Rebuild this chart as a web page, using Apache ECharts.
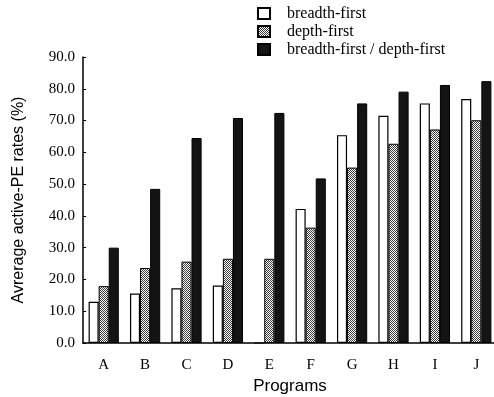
<!DOCTYPE html>
<html>
<head>
<meta charset="utf-8">
<script src="https://cdn.jsdelivr.net/npm/echarts@6/dist/echarts.min.js"></script>
<style>
  html, body { margin: 0; padding: 0; background: #fff; }
  #chart { width: 494px; height: 397px; }
</style>
</head>
<body>
<div id="chart"></div>
<script>
// programs on the x axis
var programs = ['A', 'B', 'C', 'D', 'E', 'F', 'G', 'H', 'I', 'J']
// average active-PE rates (%)
var breadthFirst = [13.0, 15.6, 17.2, 18.1, 0, 42.2, 65.4, 71.5, 75.4, 76.8]
var depthFirst = [17.9, 23.6, 25.6, 26.5, 26.5, 36.3, 55.2, 62.7, 67.2, 70.1]
var breadthDepth = [30.0, 48.5, 64.5, 70.8, 72.4, 51.8, 75.4, 79.1, 81.2, 82.4]
var seriesNames = ['breadth-first', 'depth-first', 'breadth-first / depth-first']

// dotted fill for the depth-first bars
function makePattern() {
  var c = document.createElement('canvas')
  c.width = 2
  c.height = 2
  var ctx = c.getContext('2d')
  ctx.fillStyle = '#fff'
  ctx.fillRect(0, 0, 2, 2)
  ctx.fillStyle = '#3a3a3a'
  ctx.fillRect(0, 0, 1, 1)
  ctx.fillRect(1, 1, 1, 1)
  return c
}

var myChart = echarts.init(document.getElementById('chart'))

var serifFont = '"Liberation Serif", "DejaVu Serif", serif'
var sansFont = '"Liberation Sans", Arial, sans-serif'

var option = {
  animation: false,
  backgroundColor: '#fff',
  legend: {
    orient: 'vertical',
    left: 252,
    top: 0,
    itemGap: 1,
    itemWidth: 12,
    itemHeight: 11,
    icon: 'rect',
    textStyle: {
      fontFamily: serifFont,
      fontSize: 16,
      lineHeight: 17,
      color: '#000',
      padding: [0, 0, 0, 12],
    },
    data: seriesNames,
  },
  grid: {
    left: 83,
    right: -3,
    top: 57,
    bottom: 54,
    outerBoundsMode: 'none',
  },
  xAxis: {
    type: 'category',
    data: programs,
    name: 'Programs',
    nameLocation: 'middle',
    nameGap: 32,
    nameTextStyle: {
      fontFamily: sansFont,
      fontSize: 17,
      color: '#000',
    },
    axisLine: { lineStyle: { color: '#000', width: 1.5 } },
    axisTick: { inside: true, length: 3, lineStyle: { color: '#000' } },
    axisLabel: {
      fontFamily: serifFont,
      fontSize: 15,
      color: '#000',
      margin: 15,
    },
  },
  yAxis: {
    type: 'value',
    min: 0,
    max: 90,
    interval: 10,
    name: 'Avrerage active-PE rates (%)',
    nameLocation: 'middle',
    nameGap: 56,
    nameTextStyle: {
      fontFamily: sansFont,
      fontSize: 16,
      color: '#000',
    },
    axisLine: { show: true, lineStyle: { color: '#000', width: 1.5 } },
    axisTick: { show: true, inside: true, length: 3, lineStyle: { color: '#000' } },
    splitLine: { show: false },
    axisLabel: {
      fontFamily: serifFont,
      fontSize: 15,
      color: '#000',
      margin: 8,
      formatter: function (v) {
        return v.toFixed(1)
      },
    },
  },
  series: [
    {
      name: seriesNames[0],
      type: 'bar',
      data: breadthFirst,
      barGap: 0,
      barCategoryGap: '27%',
      itemStyle: { color: '#fff', borderColor: '#000', borderWidth: 1.2 },
    },
    {
      name: seriesNames[1],
      type: 'bar',
      data: depthFirst,
      barGap: 0,
      barCategoryGap: '27%',
      itemStyle: {
        color: { image: makePattern(), repeat: 'repeat' },
        borderColor: '#000',
        borderWidth: 1,
      },
    },
    {
      name: seriesNames[2],
      type: 'bar',
      data: breadthDepth,
      barGap: 0,
      barCategoryGap: '27%',
      itemStyle: { color: '#141414', borderColor: '#000', borderWidth: 1 },
    },
  ],
}

myChart.setOption(option)
</script>
</body>
</html>
